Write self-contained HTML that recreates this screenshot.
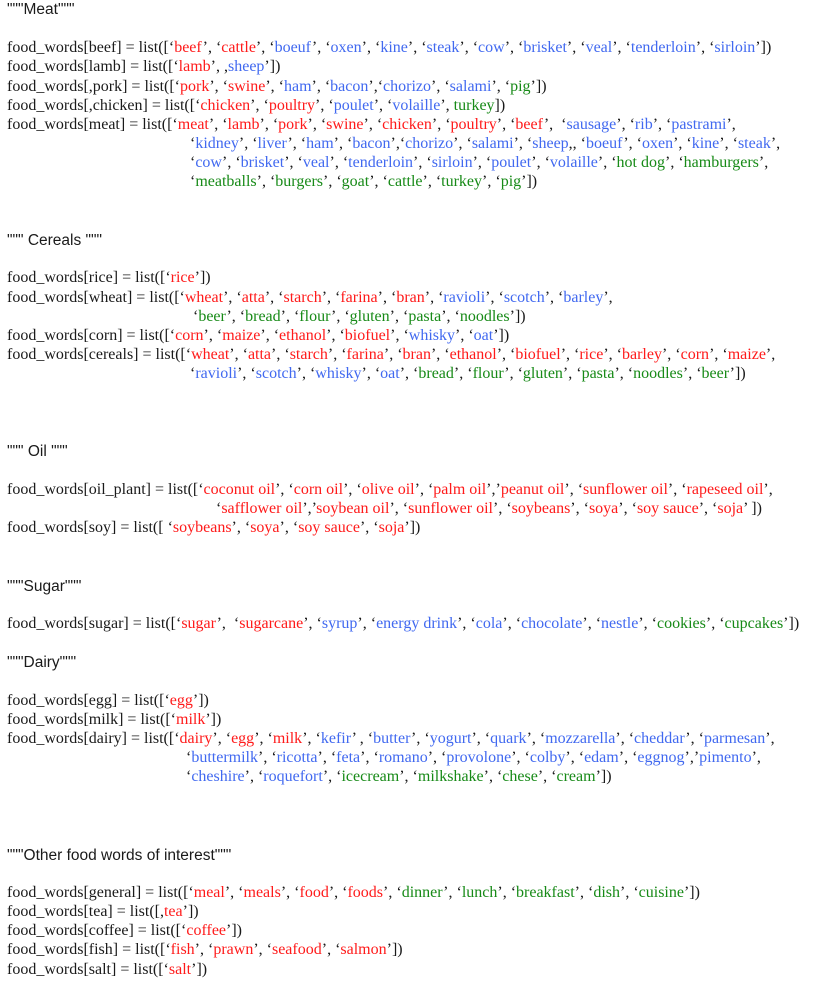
<!DOCTYPE html>
<html><head><meta charset="utf-8"><style>
html,body{margin:0;padding:0;background:#fff;width:832px;height:988px;overflow:hidden}
.l{position:absolute;left:7px;white-space:pre;font-family:"Liberation Serif",serif;font-size:16px;line-height:19px;color:#1a1a1a}
.h{font-family:"Liberation Sans",sans-serif;font-size:15.5px}
.r{color:#ff1a1a}.b{color:#4169f0}.g{color:#178a17}
</style></head><body>
<div class="l h" style="top:0px">"""Meat"""</div>
<div class="l" style="top:38px">food_words[beef] = list([‘<span class="r">beef</span>’, ‘<span class="r">cattle</span>’, ‘<span class="b">boeuf</span>’, ‘<span class="b">oxen</span>’, ‘<span class="b">kine</span>’, ‘<span class="b">steak</span>’, ‘<span class="b">cow</span>’, ‘<span class="b">brisket</span>’, ‘<span class="b">veal</span>’, ‘<span class="b">tenderloin</span>’, ‘<span class="b">sirloin</span>’])</div>
<div class="l" style="top:57px">food_words[lamb] = list([‘<span class="r">lamb</span>’, ,<span class="b">sheep</span>’])</div>
<div class="l" style="top:77px">food_words[,pork] = list([‘<span class="r">pork</span>’, ‘<span class="r">swine</span>’, ‘<span class="b">ham</span>’, ‘<span class="b">bacon</span>’,‘<span class="b">chorizo</span>’, ‘<span class="b">salami</span>’, ‘<span class="g">pig</span>’])</div>
<div class="l" style="top:96px">food_words[,chicken] = list([‘<span class="r">chicken</span>’, ‘<span class="r">poultry</span>’, ‘<span class="b">poulet</span>’, ‘<span class="b">volaille</span>’, <span class="g">turkey</span>])</div>
<div class="l" style="top:115px">food_words[meat] = list([‘<span class="r">meat</span>’, ‘<span class="r">lamb</span>’, ‘<span class="r">pork</span>’, ‘<span class="r">swine</span>’, ‘<span class="r">chicken</span>’, ‘<span class="r">poultry</span>’, ‘<span class="r">beef</span>’,  ‘<span class="b">sausage</span>’, ‘<span class="b">rib</span>’, ‘<span class="b">pastrami</span>’,</div>
<div class="l" style="top:134px;left:190px">‘<span class="b">kidney</span>’, ‘<span class="b">liver</span>’, ‘<span class="b">ham</span>’, ‘<span class="b">bacon</span>’,‘<span class="b">chorizo</span>’, ‘<span class="b">salami</span>’, ‘<span class="b">sheep</span>,, ‘<span class="b">boeuf</span>’, ‘<span class="b">oxen</span>’, ‘<span class="b">kine</span>’, ‘<span class="b">steak</span>’,</div>
<div class="l" style="top:153px;left:190px">‘<span class="b">cow</span>’, ‘<span class="b">brisket</span>’, ‘<span class="b">veal</span>’, ‘<span class="b">tenderloin</span>’, ‘<span class="b">sirloin</span>’, ‘<span class="b">poulet</span>’, ‘<span class="b">volaille</span>’, ‘<span class="g">hot dog</span>’, ‘<span class="g">hamburgers</span>’,</div>
<div class="l" style="top:172px;left:190px">‘<span class="g">meatballs</span>’, ‘<span class="g">burgers</span>’, ‘<span class="g">goat</span>’, ‘<span class="g">cattle</span>’, ‘<span class="g">turkey</span>’, ‘<span class="g">pig</span>’])</div>

<div class="l h" style="top:231px">""" Cereals """</div>
<div class="l" style="top:268px">food_words[rice] = list([‘<span class="r">rice</span>’])</div>
<div class="l" style="top:288px">food_words[wheat] = list([‘<span class="r">wheat</span>’, ‘<span class="r">atta</span>’, ‘<span class="r">starch</span>’, ‘<span class="r">farina</span>’, ‘<span class="r">bran</span>’, ‘<span class="b">ravioli</span>’, ‘<span class="b">scotch</span>’, ‘<span class="b">barley</span>’,</div>
<div class="l" style="top:307px;left:193px">‘<span class="g">beer</span>’, ‘<span class="g">bread</span>’, ‘<span class="g">flour</span>’, ‘<span class="g">gluten</span>’, ‘<span class="g">pasta</span>’, ‘<span class="g">noodles</span>’])</div>
<div class="l" style="top:326px">food_words[corn] = list([‘<span class="r">corn</span>’, ‘<span class="r">maize</span>’, ‘<span class="r">ethanol</span>’, ‘<span class="r">biofuel</span>’, ‘<span class="b">whisky</span>’, ‘<span class="b">oat</span>’])</div>
<div class="l" style="top:345px">food_words[cereals] = list([‘<span class="r">wheat</span>’, ‘<span class="r">atta</span>’, ‘<span class="r">starch</span>’, ‘<span class="r">farina</span>’, ‘<span class="r">bran</span>’, ‘<span class="r">ethanol</span>’, ‘<span class="r">biofuel</span>’, ‘<span class="r">rice</span>’, ‘<span class="r">barley</span>’, ‘<span class="r">corn</span>’, ‘<span class="r">maize</span>’,</div>
<div class="l" style="top:364px;left:190px">‘<span class="b">ravioli</span>’, ‘<span class="b">scotch</span>’, ‘<span class="b">whisky</span>’, ‘<span class="b">oat</span>’, ‘<span class="g">bread</span>’, ‘<span class="g">flour</span>’, ‘<span class="g">gluten</span>’, ‘<span class="g">pasta</span>’, ‘<span class="g">noodles</span>’, ‘<span class="g">beer</span>’])</div>

<div class="l h" style="top:442px">""" Oil """</div>
<div class="l" style="top:480px">food_words[oil_plant] = list([‘<span class="r">coconut oil</span>’, ‘<span class="r">corn oil</span>’, ‘<span class="r">olive oil</span>’, ‘<span class="r">palm oil</span>’,’<span class="r">peanut oil</span>’, ‘<span class="r">sunflower oil</span>’, ‘<span class="r">rapeseed oil</span>’,</div>
<div class="l" style="top:499px;left:216px">‘<span class="r">safflower oil</span>’,’<span class="r">soybean oil</span>’, ‘<span class="r">sunflower oil</span>’, ‘<span class="r">soybeans</span>’, ‘<span class="r">soya</span>’, ‘<span class="r">soy sauce</span>’, ‘<span class="r">soja</span>’ ])</div>
<div class="l" style="top:518px">food_words[soy] = list([ ‘<span class="r">soybeans</span>’, ‘<span class="r">soya</span>’, ‘<span class="r">soy sauce</span>’, ‘<span class="r">soja</span>’])</div>

<div class="l h" style="top:577px">"""Sugar"""</div>
<div class="l" style="top:614px">food_words[sugar] = list([‘<span class="r">sugar</span>’,  ‘<span class="r">sugarcane</span>’, ‘<span class="b">syrup</span>’, ‘<span class="b">energy drink</span>’, ‘<span class="b">cola</span>’, ‘<span class="b">chocolate</span>’, ‘<span class="b">nestle</span>’, ‘<span class="g">cookies</span>’, ‘<span class="g">cupcakes</span>’])</div>

<div class="l h" style="top:653px">"""Dairy"""</div>
<div class="l" style="top:691px">food_words[egg] = list([‘<span class="r">egg</span>’])</div>
<div class="l" style="top:710px">food_words[milk] = list([‘<span class="r">milk</span>’])</div>
<div class="l" style="top:729px">food_words[dairy] = list([‘<span class="r">dairy</span>’, ‘<span class="r">egg</span>’, ‘<span class="r">milk</span>’, ‘<span class="b">kefir</span>’ , ‘<span class="b">butter</span>’, ‘<span class="b">yogurt</span>’, ‘<span class="b">quark</span>’, ‘<span class="b">mozzarella</span>’, ‘<span class="b">cheddar</span>’, ‘<span class="b">parmesan</span>’,</div>
<div class="l" style="top:748px;left:186px">‘<span class="b">buttermilk</span>’, ‘<span class="b">ricotta</span>’, ‘<span class="b">feta</span>’, ‘<span class="b">romano</span>’, ‘<span class="b">provolone</span>’, ‘<span class="b">colby</span>’, ‘<span class="b">edam</span>’, ‘<span class="b">eggnog</span>’,’<span class="b">pimento</span>’,</div>
<div class="l" style="top:767px;left:186px">‘<span class="b">cheshire</span>’, ‘<span class="b">roquefort</span>’, ‘<span class="g">icecream</span>’, ‘<span class="g">milkshake</span>’, ‘<span class="g">chese</span>’, ‘<span class="g">cream</span>’])</div>

<div class="l h" style="top:846px">"""Other food words of interest"""</div>
<div class="l" style="top:883px">food_words[general] = list([‘<span class="r">meal</span>’, ‘<span class="r">meals</span>’, ‘<span class="r">food</span>’, ‘<span class="r">foods</span>’, ‘<span class="g">dinner</span>’, ‘<span class="g">lunch</span>’, ‘<span class="g">breakfast</span>’, ‘<span class="g">dish</span>’, ‘<span class="g">cuisine</span>’])</div>
<div class="l" style="top:902px">food_words[tea] = list([,<span class="r">tea</span>’])</div>
<div class="l" style="top:921px">food_words[coffee] = list([‘<span class="r">coffee</span>’])</div>
<div class="l" style="top:940px">food_words[fish] = list([‘<span class="r">fish</span>’, ‘<span class="r">prawn</span>’, ‘<span class="r">seafood</span>’, ‘<span class="r">salmon</span>’])</div>
<div class="l" style="top:960px">food_words[salt] = list([‘<span class="r">salt</span>’])</div>
</body></html>
